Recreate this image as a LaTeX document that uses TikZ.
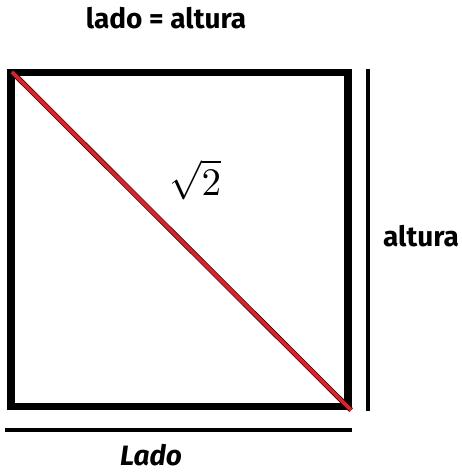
\documentclass[tikz,border=0pt]{standalone}
\usepackage{fontspec}
\setmainfont{Fira Sans}
\definecolor{diagred}{RGB}{232,28,36}
\begin{document}
\begin{tikzpicture}[x=1pt,y=-1pt]
  \useasboundingbox (0,0) rectangle (462,473);

  % Square
  \draw[line width=7.5pt, line join=miter] (11,72.5) rectangle (348,406.5);

  % Diagonal (red over a dark edge)
  \draw[line width=5pt, black] (12,72) -- (351,410);
  \draw[line width=3.8pt, diagred] (12,72) -- (351,410);

  % Side lines
  \draw[line width=4pt] (368,69) -- (368,411);   % height
  \draw[line width=4pt] (5,430) -- (352,430);    % base

  % Labels
  \node (title) at (166,18) {\fontsize{28}{28}\selectfont\bfseries lado = altura};
  \node (diag) at (195,180) {\scalebox{3.9}{$\sqrt{2}$}};
  \node (alt) at (421,236) {\fontsize{28}{28}\selectfont\bfseries altura};
  \node (base) at (151,455) {\fontsize{28}{28}\selectfont\bfseries\itshape Lado};
\end{tikzpicture}
\end{document}
